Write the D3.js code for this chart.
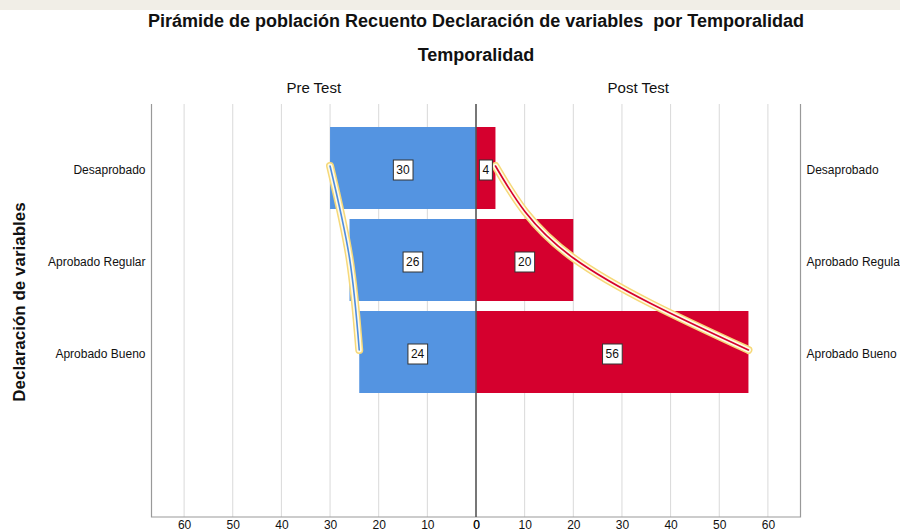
<!DOCTYPE html>
<meta charset="utf-8">
<style>
body { margin: 0; background: #fff; }
svg text { font-family: "Liberation Sans", Arial, sans-serif; fill: #111; }
.grid line { stroke: #d9d9d9; stroke-width: 1px; }
.frame { stroke: #999; stroke-width: 1.2px; fill: none; }
.val rect { fill: #fff; stroke: #333; stroke-width: 1px; }
</style>
<svg width="900" height="531" id="chart"></svg>
<script src="https://cdnjs.cloudflare.com/ajax/libs/d3/7.8.5/d3.min.js"></script>
<script>

// data
var categories = ["Desaprobado", "Aprobado Regular", "Aprobado Bueno"];
var preTest = [30, 26, 24];
var postTest = [4, 20, 56];
var tickValues = [0, 10, 20, 30, 40, 50, 60];

var svg = d3.select("svg#chart"),
    plotTop = 104, plotBottom = 517,
    plotLeft = 151.5, mid = 476, plotRight = 800.5,
    maxV = 66.7;

var xL = d3.scaleLinear().domain([0, maxV]).range([mid, plotLeft]),
    xR = d3.scaleLinear().domain([0, maxV]).range([mid, plotRight]),
    y = d3.scaleBand().domain(categories).range([127, 393]).paddingInner(10 / 92);

// faint watermark band at top
svg.append("rect").attr("x", 0).attr("y", 0).attr("width", 900).attr("height", 10)
    .attr("fill", "#f1eee7");

// titles
svg.append("text").attr("x", 476).attr("y", 27).attr("text-anchor", "middle")
    .style("font-size", "18px").style("font-weight", "bold").style("white-space", "pre")
    .text("Pirámide de población Recuento Declaración de variables  por Temporalidad");
svg.append("text").attr("x", 476).attr("y", 61).attr("text-anchor", "middle")
    .style("font-size", "18px").style("font-weight", "bold")
    .text("Temporalidad");
svg.append("text").attr("x", (plotLeft + mid) / 2).attr("y", 93).attr("text-anchor", "middle")
    .style("font-size", "15px").text("Pre Test");
svg.append("text").attr("x", (mid + plotRight) / 2).attr("y", 93).attr("text-anchor", "middle")
    .style("font-size", "15px").text("Post Test");
svg.append("text").attr("transform", "translate(25,302) rotate(-90)")
    .attr("text-anchor", "middle")
    .style("font-size", "17px").style("font-weight", "bold")
    .text("Declaración de variables");

// gridlines
var grid = svg.append("g").attr("class", "grid");
grid.selectAll(".gl").data(tickValues.slice(1)).enter().append("line")
    .attr("x1", function(d) { return xL(d); }).attr("x2", function(d) { return xL(d); })
    .attr("y1", plotTop).attr("y2", plotBottom);
grid.selectAll(".gr").data(tickValues.slice(1)).enter().append("line")
    .attr("x1", function(d) { return xR(d); }).attr("x2", function(d) { return xR(d); })
    .attr("y1", plotTop).attr("y2", plotBottom);

// bars
svg.append("g").selectAll("rect").data(categories).enter().append("rect")
    .attr("x", function(d, i) { return xL(preTest[i]); })
    .attr("y", function(d) { return y(d); })
    .attr("width", function(d, i) { return mid - xL(preTest[i]); })
    .attr("height", y.bandwidth())
    .attr("fill", "#5494e1");
svg.append("g").selectAll("rect").data(categories).enter().append("rect")
    .attr("x", mid)
    .attr("y", function(d) { return y(d); })
    .attr("width", function(d, i) { return xR(postTest[i]) - mid; })
    .attr("height", y.bandwidth())
    .attr("fill", "#d5002e");

// frame
svg.append("path").attr("class", "frame")
    .attr("d", "M" + plotLeft + "," + plotTop + "V" + plotBottom + "H" + plotRight + "V" + plotTop);
svg.append("line").attr("x1", mid).attr("x2", mid).attr("y1", plotTop).attr("y2", plotBottom)
    .attr("stroke", "#555").attr("stroke-width", 1.6);

// bottom axes
function bottomAxis(scale) {
  var g = svg.append("g").attr("transform", "translate(0," + plotBottom + ")")
      .call(d3.axisBottom(scale).tickValues(tickValues).tickSize(0).tickPadding(3).tickFormat(d3.format("d")));
  g.select(".domain").remove();
  g.selectAll("text").style("font-size", "12px").style("font-family", "Liberation Sans, Arial, sans-serif").attr("fill", "#111");
}
bottomAxis(xL);
bottomAxis(xR);

// category labels
var yl = svg.append("g").attr("transform", "translate(" + plotLeft + ",2)")
    .call(d3.axisLeft(y).tickSize(0).tickPadding(6));
yl.select(".domain").remove();
var yr = svg.append("g").attr("transform", "translate(" + plotRight + ",2)")
    .call(d3.axisRight(y).tickSize(0).tickPadding(6));
yr.select(".domain").remove();
svg.selectAll(".tick text").style("font-family", "Liberation Sans, Arial, sans-serif").attr("fill", "#111");
yl.selectAll("text").style("font-size", "12px");
yr.selectAll("text").style("font-size", "12px");

// annotation curves through bar ends
var curve = d3.line().curve(d3.curveNatural);
function annot(vals, scale, color) {
  var pts = categories.map(function(c, i) { return [scale(vals[i]), y(c) + y.bandwidth() / 2 - 2]; });
  var g = svg.append("g");
  g.append("path").attr("d", curve(pts)).attr("fill", "none")
      .attr("stroke", "#f6d97a").attr("stroke-width", 8).attr("stroke-linecap", "round");
  g.append("path").attr("d", curve(pts)).attr("fill", "none")
      .attr("stroke", "#fffbe8").attr("stroke-width", 5).attr("stroke-linecap", "round");
  g.append("path").attr("d", curve(pts)).attr("fill", "none")
      .attr("stroke", color).attr("stroke-width", 1.6).attr("stroke-linecap", "round");
}
annot(preTest, xL, "#4f8de0");
annot(postTest, xR, "#d5002e");

// value labels
function valueLabels(vals, scale) {
  var g = svg.append("g").attr("class", "val").selectAll("g").data(categories).enter().append("g")
      .attr("transform", function(d, i) {
        return "translate(" + (mid + scale(vals[i])) / 2 + "," + (y(d) + y.bandwidth() / 2 + 2) + ")";
      });
  g.append("text").attr("text-anchor", "middle").attr("dy", "0.36em")
      .style("font-size", "12px").text(function(d, i) { return vals[i]; })
      .each(function() {
        var b = this.getBBox();
        d3.select(this.parentNode).insert("rect", "text")
            .attr("x", b.x - 3).attr("y", -10).attr("width", b.width + 6).attr("height", 20);
      });
}
valueLabels(preTest, xL);
valueLabels(postTest, xR);

</script>
